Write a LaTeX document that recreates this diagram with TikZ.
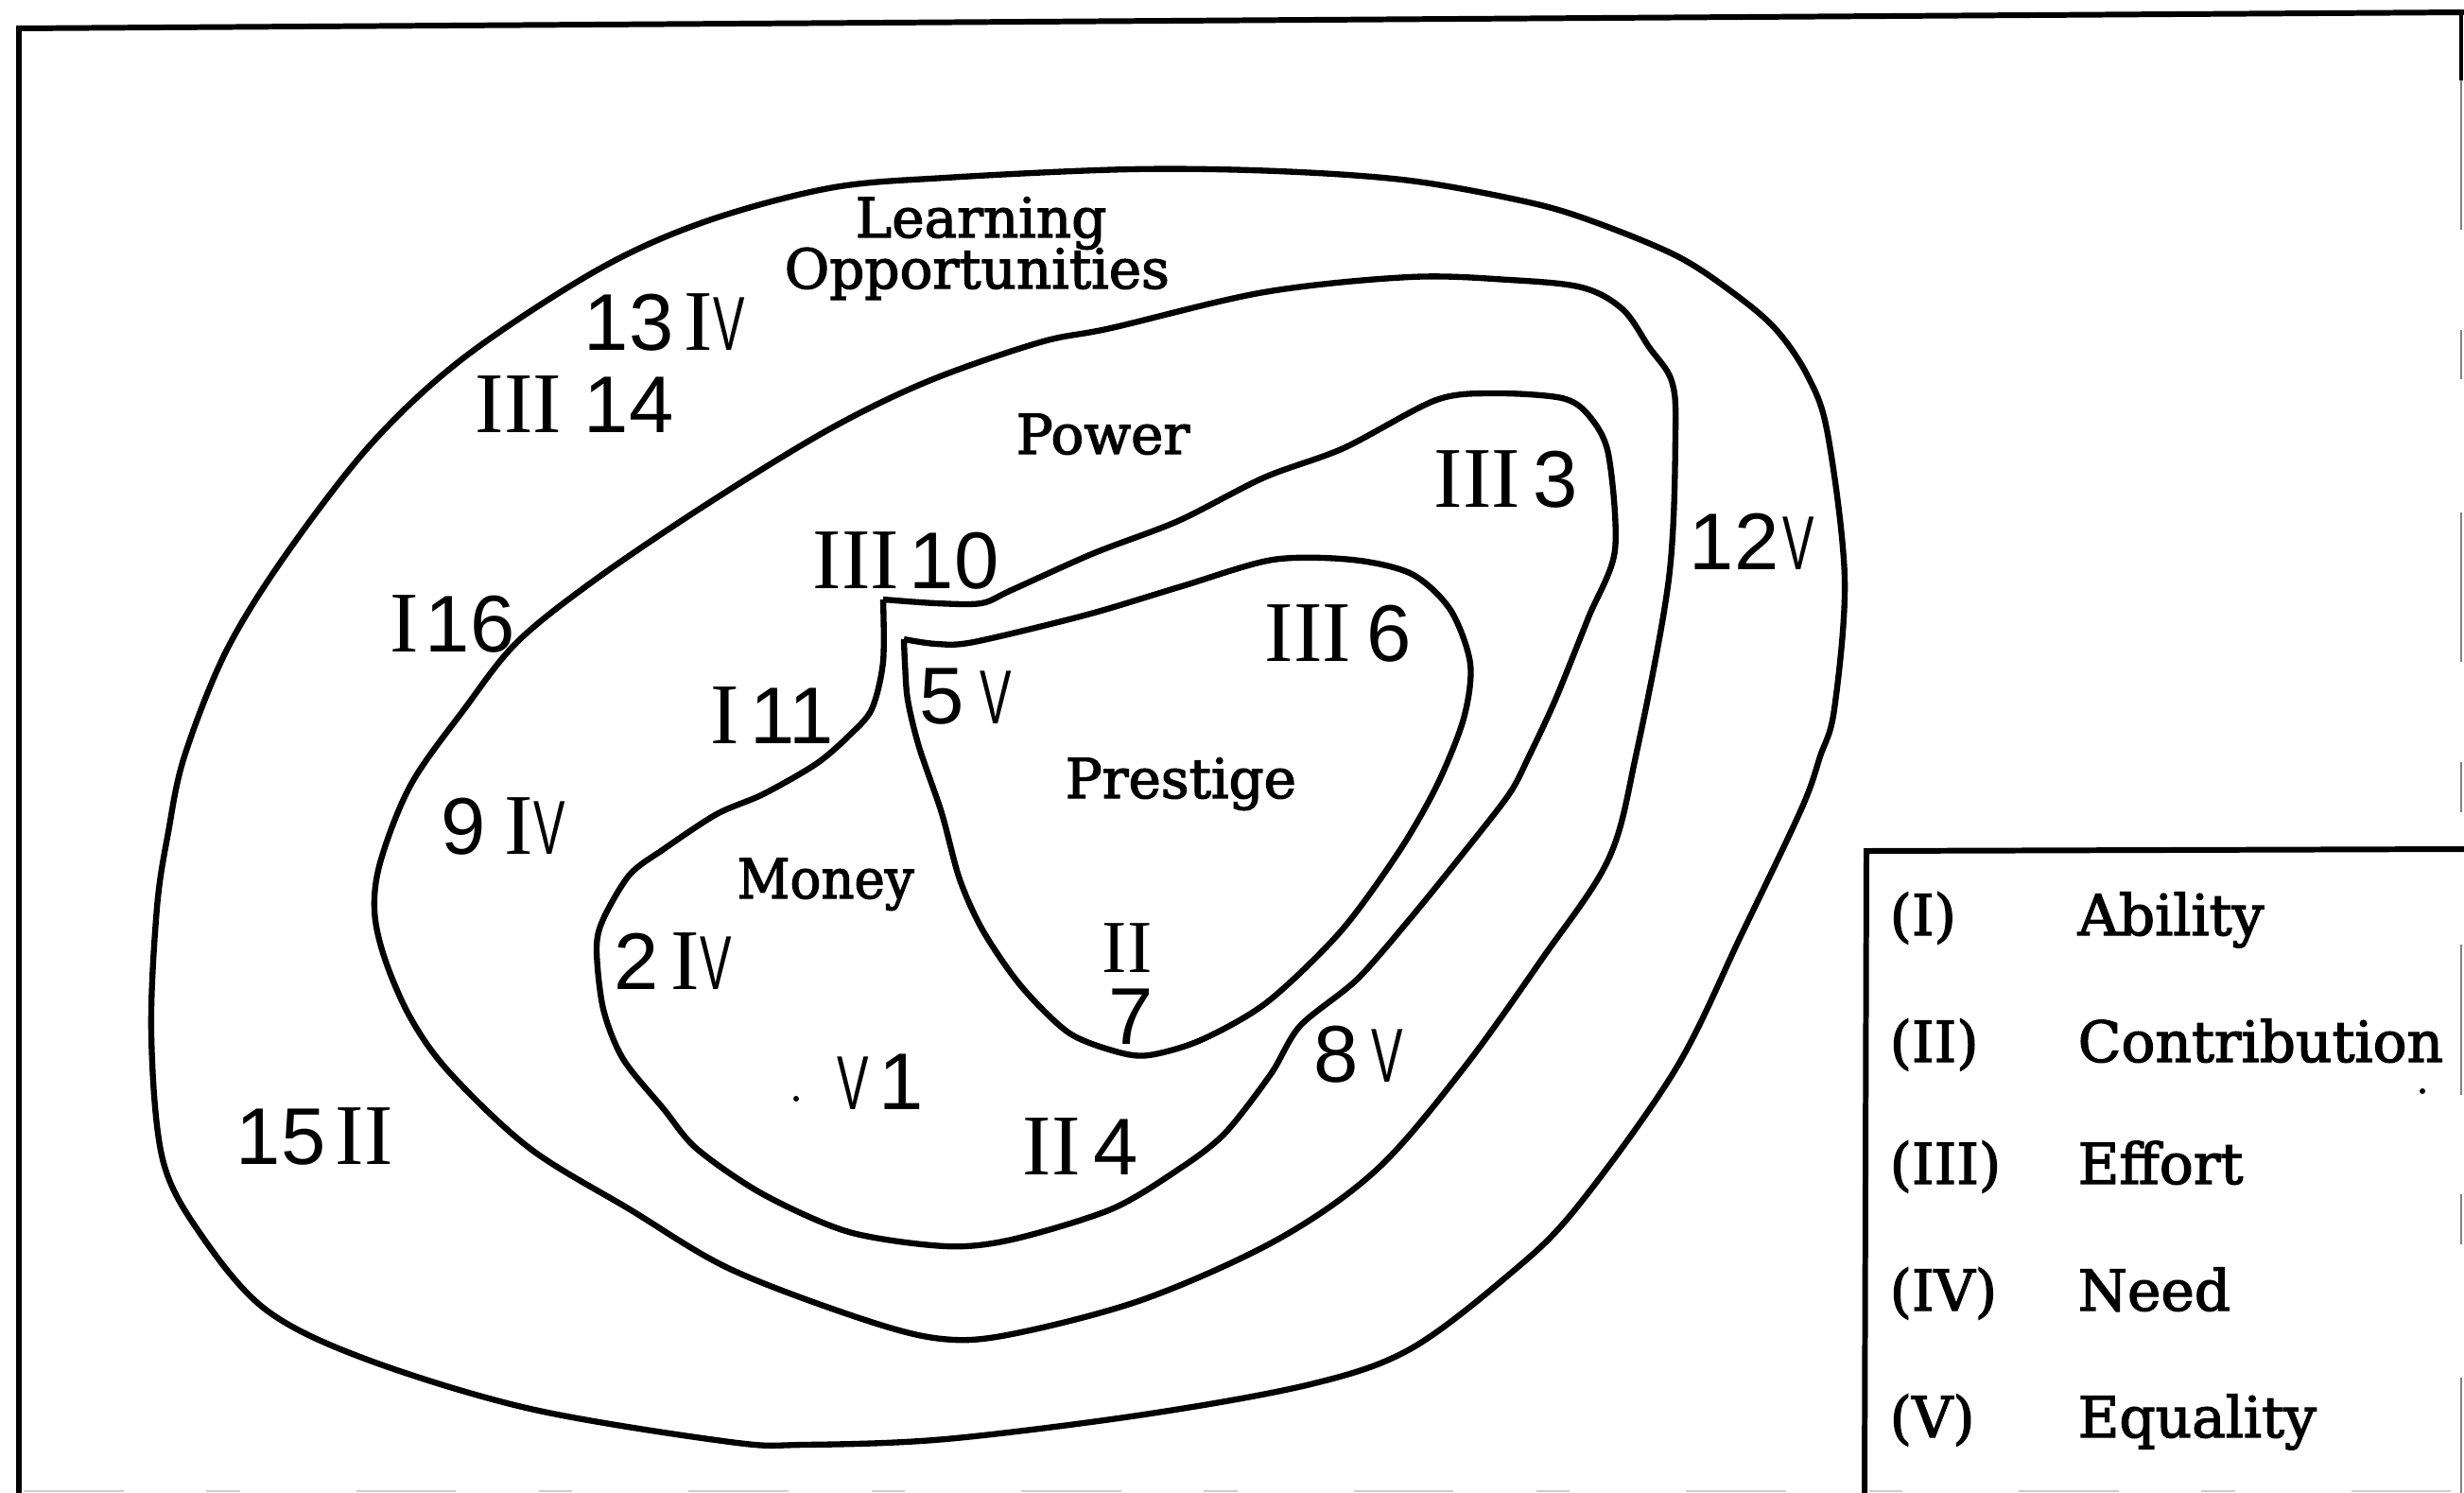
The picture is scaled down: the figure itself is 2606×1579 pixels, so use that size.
\documentclass[tikz,border=0pt]{standalone}
\usepackage{fontspec}
\usepackage{graphicx}
\newfontfamily\lblf[FakeBold=2.2]{DejaVu Serif}
\newfontfamily\numf{Liberation Sans}
\newfontfamily\romf{Liberation Serif}
\newcommand\nv{{\numf\fontsize{23}{25}\selectfont\scalebox{0.62}[1]{V}}}
\tikzset{
  frame/.style={line width=1.7pt, black},
  region/.style={line width=1.8pt, black, line join=round},
  num/.style={anchor=base west, inner sep=0pt, font=\numf\fontsize{24.2}{26}\selectfont},
  rom/.style={anchor=base west, inner sep=0pt, font=\romf\fontsize{26}{28}\selectfont},
  romsmall/.style={anchor=base west, inner sep=0pt, font=\romf\fontsize{22.5}{24}\selectfont},
  area/.style={anchor=base west, inner sep=0pt, font=\lblf\fontsize{16.5}{18}\selectfont},
  legabbr/.style={anchor=base west, inner sep=0pt, font=\lblf\fontsize{17}{19}\selectfont},
  legword/.style={anchor=base west, inner sep=0pt, font=\lblf\fontsize{17}{19}\selectfont},
}
\begin{document}
\begin{tikzpicture}[x=0.01cm, y=-0.01cm]
\useasboundingbox (0,0) rectangle (2606,1579);
% outer frame
\draw[frame] (2606,13) -- (20,30) -- (20,1579);
\draw[line width=1.2pt] (2603,15) -- (2603,85);
\draw[gray, line width=0.7pt, dash pattern=on 45 off 30 on 15 off 40] (2603,85) -- (2603,1579);
\draw[gray!40, line width=0.8pt, dash pattern=on 30 off 25 on 10 off 35] (25,1577) -- (2606,1577);
% legend box
\draw[frame] (2606,898) -- (1974,900) -- (1972,1579);

% C1: Learning Opportunities
\draw[region] plot[smooth cycle, tension=0.55] coordinates {
 (744,235) (877,199) (1000,188) (1196,179) (1351,181) (1491,191) (1617,214) (1687,235)
 (1772,270) (1828,306) (1877,347) (1912,398) (1933,459) (1951,612) (1940,750) (1925,800)
 (1905,856) (1842,988) (1772,1131) (1666,1279) (1596,1348) (1491,1427) (1386,1464)
 (1210,1496) (1000,1522) (850,1528) (772,1525) (561,1490) (386,1437) (281,1385)
 (212,1305) (172,1226) (160,1094) (166,960) (178,880) (195,800) (239,689) (302,587)
 (393,469) (491,378) (631,286)};

% C2: Power
\draw[region] plot[smooth cycle, tension=0.55] coordinates {
 (1100,362) (1175,347) (1337,309) (1491,293) (1596,296) (1673,304) (1716,327) (1744,367)
 (1768,403) (1772,459) (1765,612) (1730,800) (1701,909) (1631,1014) (1547,1131)
 (1456,1237) (1351,1311) (1210,1374) (1070,1411) (996,1416) (912,1395) (772,1342)
 (666,1279) (561,1215) (477,1136) (435,1078) (407,1014) (396,962) (403,909) (435,829)
 (491,750) (547,679) (631,612) (751,531) (877,454) (982,403)};

% C3: Money
\draw[region] plot[smooth, tension=0.5] coordinates {
 (934,634) (990,638) (1038,638) (1070,624) (1157,585) (1246,551) (1337,505) (1421,474)
 (1519,423) (1582,416) (1652,421) (1680,439) (1701,480) (1708,582) (1680,653) (1645,740)
 (1617,800) (1596,840) (1547,903) (1491,972) (1435,1036) (1375,1085) (1344,1136)
 (1295,1199) (1246,1237) (1175,1279) (1070,1311) (1000,1318) (898,1303) (807,1263)
 (737,1215) (702,1173) (659,1120) (638,1067) (631,1004) (638,972) (666,925) (702,898)
 (758,861) (807,840) (863,808) (898,778) (922,750) (934,700) (934,634)};

% C4: Prestige
\draw[region] plot[smooth, tension=0.5] coordinates {
 (956,676) (990,681) (1030,679) (1150,650) (1250,620) (1346,592) (1430,592) (1493,607)
 (1534,645) (1555,702) (1548,760) (1520,830) (1480,900) (1418,985) (1340,1060)
 (1270,1100) (1215,1116) (1180,1112) (1130,1092) (1080,1043) (1040,985) (1015,930)
 (996,860) (972,790) (960,740) (957,700) (956,676)};

% area labels
\node[area] (learn) at (904,251) {Learning};
\node[area] (opp) at (829,305) {Opportunities};
\node[area] (power) at (1074,480) {Power};
\node[area] (prest) at (1126,844) {Prestige};
\node[area] (money) at (779,950) {\scalebox{0.94}[1]{Money}};

% numbered labels
\node[num] (n13) at (617,370) {13};  \node[rom] (r13) at (723,370) {I\nv};
\node[rom] (r14) at (502,457) {III}; \node[num] (n14) at (617,457) {14};
\node[rom] (r16) at (412,689) {I};   \node[num] (n16) at (449,689) {16};
\node[rom] (r10) at (859,622) {III}; \node[num] (n10) at (961,622) {10};
\node[rom] (r11) at (751,786) {I};   \node[num] (n11) at (793,786) {11};
\node[num] (n5) at (972,765) {5};    \node[rom] (r5) at (1036,765) {\nv};
\node[rom] (r3) at (1516,536) {III}; \node[num] (n3) at (1621,536) {3};
\node[num] (n12) at (1786,602) {12}; \node[rom] (r12) at (1885,602) {\nv};
\node[rom] (r6) at (1337,699) {III}; \node[num] (n6) at (1445,699) {6};
\node[num] (n9) at (466,903) {9};    \node[rom] (r9) at (533,903) {I\nv};
\node[num] (n2) at (649,1046) {2};   \node[rom] (r2) at (709,1046) {I\nv};
\node[rom] (r1) at (885,1173) {\nv}; \node[num] (n1) at (929,1173) {1};
\node[num] (n15) at (249,1231) {15}; \node[rom] (r15) at (354,1231) {II};
\node[rom] (r4) at (1081,1242) {II}; \node[num] (n4) at (1156,1242) {4};
\node[num] (n8) at (1389,1144) {8};  \node[rom] (r8) at (1450,1144) {\nv};
\node[romsmall] (r7) at (1165,1028) {II}; \node[num] (n7) at (1172,1104) {7};
\fill (842,1162) circle[radius=3];
\fill (2562,1154) circle[radius=3];

% legend
\node[legabbr] (la1) at (1998,989)  {(I)};   \node[legword] (lw1) at (2197,989)  {Ability};
\node[legabbr] (la2) at (1998,1123) {(II)};  \node[legword] (lw2) at (2197,1123) {Contribution};
\node[legabbr] (la3) at (1998,1252) {(III)}; \node[legword] (lw3) at (2197,1252) {Effort};
\node[legabbr] (la4) at (1998,1386) {(IV)};  \node[legword] (lw4) at (2197,1386) {Need};
\node[legabbr] (la5) at (1998,1520) {(V)};   \node[legword] (lw5) at (2197,1520) {Equality};
\end{tikzpicture}
\end{document}
